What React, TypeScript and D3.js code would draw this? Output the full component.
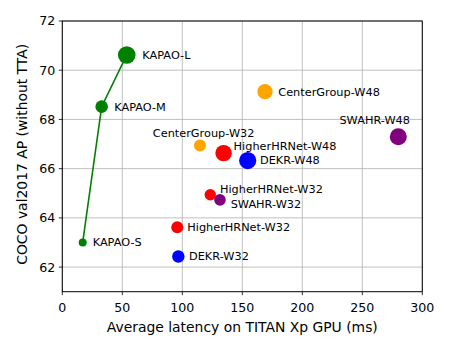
import * as d3 from 'd3';

const models = [
  'KAPAO-S', 'KAPAO-M', 'KAPAO-L',
  'HigherHRNet-W32', 'HigherHRNet-W32 ', 'HigherHRNet-W48',
  'CenterGroup-W32', 'CenterGroup-W48',
  'DEKR-W32', 'DEKR-W48',
  'SWAHR-W32', 'SWAHR-W48',
];
const latency = [17.0, 32.8, 53.7, 95.8, 123.3, 134.4, 114.7, 168.9, 96.7, 154.5, 131.4, 280.0];
const ap = [63.0, 68.52, 70.62, 63.62, 64.94, 66.63, 66.94, 69.13, 62.43, 66.33, 64.73, 67.3];
const family = ['kapao', 'kapao', 'kapao', 'hhrnet', 'hhrnet', 'hhrnet', 'cg', 'cg', 'dekr', 'dekr', 'swahr', 'swahr'];

const xTicks = [0, 50, 100, 150, 200, 250, 300];
const yTicks = [62, 64, 66, 68, 70, 72];

// styling
const colors: Record<string, string> = {
  kapao: '#008000',
  hhrnet: '#ff0000',
  cg: '#ffa500',
  dekr: '#0000ff',
  swahr: '#800080',
};
const radius = [4, 6.3, 8.8, 6, 5.7, 8.2, 6, 7.6, 6.2, 8.6, 5.8, 8.5];
// label offset from point centre: [dx, dy, anchor]
const labelPos: [number, number, string][] = [
  [10, 0, 'start'], [12.6, 0, 'start'], [15.6, 0, 'start'],
  [10, 0, 'start'], [9.7, -6, 'start'], [10, -7.6, 'start'],
  [3.7, -12.4, 'middle'], [13.3, 0, 'start'],
  [10.7, 0, 'start'], [12.3, 0, 'start'],
  [10.7, 4.3, 'start'], [-23.6, -16.7, 'middle'],
];

const W = 450;
const H = 350;
const margin = { left: 62.3, right: 27.7, top: 21, bottom: 58.3 };
const font = 'DejaVu Sans, sans-serif';

export default function App() {
  const x = d3.scaleLinear().domain([0, 300]).range([margin.left, W - margin.right]);
  const y = d3.scaleLinear().domain([61, 72]).range([H - margin.bottom, margin.top]);
  const [x0, x1] = x.range();
  const [y0, y1] = y.range();

  const kapaoIdx = family.map((f, i) => (f === 'kapao' ? i : -1)).filter((i) => i >= 0);
  const line = d3
    .line<number>()
    .x((i) => x(latency[i]))
    .y((i) => y(ap[i]));

  // draw order so overlaps match (later on top)
  const order = [0, 1, 2, 6, 7, 3, 5, 4, 9, 8, 10, 11];

  return (
    <svg width={W} height={H} style={{ position: 'absolute', left: 0, top: 0, background: '#fff' }} fontFamily={font}>
      {/* grid */}
      {xTicks.map((t) => (
        <line key={'gx' + t} x1={x(t)} x2={x(t)} y1={y1} y2={y0} stroke="#b0b0b0" strokeWidth={0.8} />
      ))}
      {yTicks.map((t) => (
        <line key={'gy' + t} x1={x0} x2={x1} y1={y(t)} y2={y(t)} stroke="#b0b0b0" strokeWidth={0.8} />
      ))}

      <path d={line(kapaoIdx) ?? ''} fill="none" stroke={colors.kapao} strokeWidth={1.6} />

      {order.map((i) => (
        <circle key={'p' + i} cx={x(latency[i])} cy={y(ap[i])} r={radius[i]} fill={colors[family[i]]} />
      ))}

      {models.map((m, i) => (
        <text
          key={'l' + i}
          x={x(latency[i]) + labelPos[i][0]}
          y={y(ap[i]) + labelPos[i][1]}
          dy="0.35em"
          textAnchor={labelPos[i][2] as any}
          fontSize={11.3}
          fill="#000"
        >
          {m.trim()}
        </text>
      ))}

      {/* frame */}
      <rect x={x0} y={y1} width={x1 - x0} height={y0 - y1} fill="none" stroke="#000" strokeWidth={1} />

      {/* x axis */}
      {xTicks.map((t) => (
        <g key={'xt' + t}>
          <line x1={x(t)} x2={x(t)} y1={y0} y2={y0 + 3.5} stroke="#000" strokeWidth={0.8} />
          <text x={x(t)} y={y0 + 16} dy="0.35em" textAnchor="middle" fontSize={12.6}>
            {t}
          </text>
        </g>
      ))}
      {yTicks.map((t) => (
        <g key={'yt' + t}>
          <line x1={x0 - 3.5} x2={x0} y1={y(t)} y2={y(t)} stroke="#000" strokeWidth={0.8} />
          <text x={x0 - 7} y={y(t)} dy="0.35em" textAnchor="end" fontSize={12.6}>
            {t}
          </text>
        </g>
      ))}

      <text x={(x0 + x1) / 2} y={327.5} dy="0.35em" textAnchor="middle" fontSize={13.9}>
        Average latency on TITAN Xp GPU (ms)
      </text>
      <text
        transform={`translate(21.7,154.3) rotate(-90)`}
        dy="0.35em"
        textAnchor="middle"
        fontSize={13.9}
      >
        COCO val2017 AP (without TTA)
      </text>
    </svg>
  );
}
